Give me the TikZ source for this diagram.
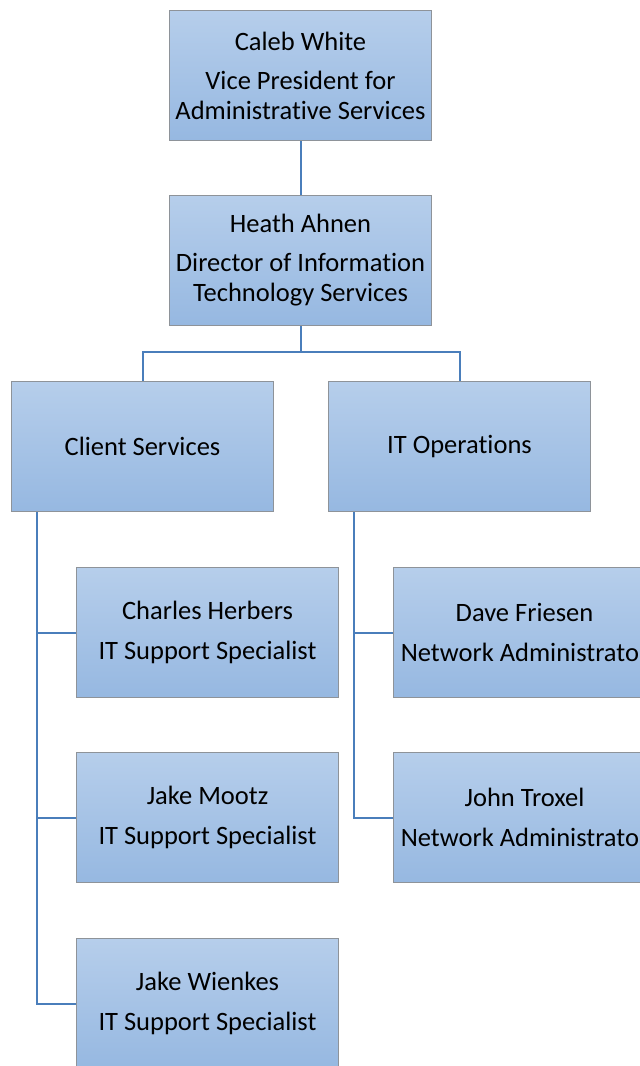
\documentclass[tikz,border=0pt]{standalone}
\usepackage{fontspec}
\setmainfont{Carlito}[Ligatures=NoCommon]
\usetikzlibrary{backgrounds}
\definecolor{boxtop}{HTML}{B6CEEB}
\definecolor{boxbot}{HTML}{96B8E1}
\definecolor{boxline}{HTML}{8E9399}
\definecolor{conn}{HTML}{4A7EBB}
\tikzset{
  orgbox/.style={draw=boxline, line width=1pt, top color=boxtop, bottom color=boxbot,
    minimum width=262pt, minimum height=130pt, anchor=north west, inner sep=0pt,
    align=center, font=\fontsize{26.5pt}{30pt}\selectfont},
  link/.style={draw=conn, line width=2pt}
}
\begin{document}
\begin{tikzpicture}[x=1pt,y=-1pt]
\useasboundingbox (0,0) rectangle (640,1066);
\clip (0,0) rectangle (640,1066);
\node[orgbox] (cw) at (169,10) {Caleb White\\[9pt]Vice President for\\Administrative Services};
\node[orgbox] (ha) at (169,195) {Heath Ahnen\\[9pt]Director of Information\\Technology Services};
\node[orgbox] (cs) at (11,381) {Client Services};
\node[orgbox] (ito) at (328,381) {IT Operations};
\node[orgbox] (ch) at (76,567) {Charles Herbers\\[10pt]IT Support Specialist};
\node[orgbox] (jm) at (76,752) {Jake Mootz\\[10pt]IT Support Specialist};
\node[orgbox] (jw) at (76,938) {Jake Wienkes\\[10pt]IT Support Specialist};
\node[orgbox] (df) at (393,567) {Dave Friesen\\[10pt]Network Administrator};
\node[orgbox] (jt) at (393,752) {John Troxel\\[10pt]Network Administrator};
\begin{scope}[on background layer]
\draw[link] (cw.south) -- (ha.north);
\draw[link] (ha.south) -- ++(0,26) coordinate (hb) -| (cs.north);
\draw[link] (hb) -| (ito.north);
\draw[link] ([xshift=26pt]cs.south west) |- (ch.west);
\draw[link] ([xshift=26pt]cs.south west) |- (jm.west);
\draw[link] ([xshift=26pt]cs.south west) |- (jw.west);
\draw[link] ([xshift=26pt]ito.south west) |- (df.west);
\draw[link] ([xshift=26pt]ito.south west) |- (jt.west);
\end{scope}
\end{tikzpicture}
\end{document}
